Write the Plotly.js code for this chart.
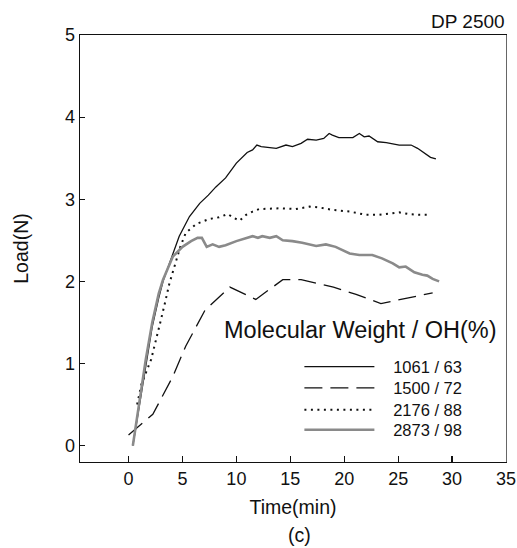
<!DOCTYPE html>
<html>
<head>
<meta charset="utf-8">
<script src="https://cdn.plot.ly/plotly-3.0.1.min.js"></script>
<style>html,body{margin:0;padding:0;background:#fff;}#chart{width:517px;height:548px;}</style>
</head>
<body>
<div id="chart"></div>
<script>
// Series names
const seriesNames = ["1061 / 63", "1500 / 72", "2176 / 88", "2873 / 98"];

// 1061 / 63 (solid black)
const s1x = [0.4, 1.0, 1.6, 2.2, 2.8, 3.2, 3.8, 4.3, 4.7, 5.65, 6.6, 7.4, 8.1, 9.0, 10.0, 11.0, 11.5, 11.9, 12.3, 13.7, 14.6, 15.2, 16.0, 16.6, 17.4, 18.1, 18.6, 18.9, 19.5, 20.8, 21.4, 21.85, 22.3, 23.1, 23.9, 25.1, 26.2, 26.8, 27.4, 28.0, 28.5];
const s1y = [0.0, 0.5, 1.0, 1.45, 1.8, 2.0, 2.22, 2.4, 2.55, 2.79, 2.95, 3.05, 3.15, 3.26, 3.44, 3.57, 3.60, 3.66, 3.64, 3.62, 3.66, 3.64, 3.68, 3.73, 3.72, 3.74, 3.80, 3.78, 3.75, 3.75, 3.80, 3.76, 3.77, 3.70, 3.69, 3.66, 3.66, 3.62, 3.57, 3.51, 3.49];

// 1500 / 72 (dashed)
const s2x = [0.0, 2.25, 4.1, 5.3, 7.1, 9.4, 11.8, 14.3, 16.0, 19.0, 21.1, 23.4, 28.2];
const s2y = [0.13, 0.38, 0.84, 1.21, 1.65, 1.93, 1.78, 2.02, 2.02, 1.93, 1.84, 1.73, 1.86];

// 2176 / 88 (dotted)
const s3x = [0.8, 1.2, 2.1, 2.6, 3.0, 3.4, 3.8, 4.3, 4.8, 5.3, 6.3, 7.5, 8.4, 9.2, 9.8, 10.3, 10.9, 11.5, 12.1, 14.0, 15.5, 16.8, 17.7, 18.9, 20.5, 22.0, 23.2, 25.1, 26.0, 26.9, 28.0];
const s3y = [0.5, 0.75, 1.05, 1.3, 1.53, 1.75, 1.98, 2.2, 2.42, 2.59, 2.70, 2.76, 2.78, 2.82, 2.77, 2.74, 2.81, 2.85, 2.88, 2.89, 2.88, 2.91, 2.90, 2.87, 2.85, 2.81, 2.81, 2.84, 2.82, 2.81, 2.81];

// 2873 / 98 (grey)
const s4x = [0.4, 1.0, 1.6, 2.2, 2.8, 3.2, 4.1, 5.0, 5.8, 6.4, 6.8, 7.25, 7.8, 8.4, 9.0, 10.0, 10.9, 11.5, 12.0, 12.4, 13.1, 13.7, 14.3, 15.2, 16.1, 17.4, 18.3, 19.2, 20.5, 21.4, 22.6, 23.5, 24.5, 25.1, 25.7, 26.5, 27.25, 27.7, 28.2, 28.8];
const s4y = [0.0, 0.55, 1.05, 1.5, 1.85, 2.02, 2.30, 2.42, 2.49, 2.53, 2.53, 2.42, 2.45, 2.42, 2.44, 2.49, 2.53, 2.55, 2.53, 2.55, 2.53, 2.55, 2.50, 2.49, 2.47, 2.43, 2.45, 2.42, 2.34, 2.32, 2.32, 2.28, 2.22, 2.17, 2.18, 2.11, 2.08, 2.07, 2.03, 2.0];

const xTicks = [0, 5, 10, 15, 20, 25, 30, 35];
const yTicks = [0, 1, 2, 3, 4, 5];

const FONT = "Arial, 'Liberation Sans', sans-serif";
const PAD = "\u00a0\u00a0\u00a0";

const traces = [
  {x: s1x, y: s1y, name: PAD + seriesNames[0], mode: "lines", line: {color: "#111", width: 1.3}, legend: "legend"},
  {x: s2x, y: s2y, name: PAD + seriesNames[1], mode: "lines", line: {color: "#111", width: 1.3, dash: "18px,8px"}, legend: "legend2"},
  {x: s3x, y: s3y, name: PAD + seriesNames[2], mode: "lines", line: {color: "#111", width: 2, dash: "2px,4.5px"}, legend: "legend3"},
  {x: s4x, y: s4y, name: PAD + seriesNames[3], mode: "lines", line: {color: "#8a8a8a", width: 2.6}, legend: "legend4"}
];

function mkLegend(yc) {
  return {
    x: 0.515, y: yc, xanchor: "left", yanchor: "middle",
    font: {family: FONT, size: 16.5, color: "#111"},
    itemwidth: 70, bgcolor: "rgba(0,0,0,0)", borderwidth: 0
  };
}

const layout = {
  width: 517, height: 548,
  margin: {l: 80, r: 11, t: 35, b: 86},
  paper_bgcolor: "#fff", plot_bgcolor: "#fff",
  font: {family: FONT, size: 17, color: "#111"},
  showlegend: true,
  legend: mkLegend(0.2225),
  legend2: mkLegend(0.173),
  legend3: mkLegend(0.122),
  legend4: mkLegend(0.075),
  xaxis: {
    range: [-4.5, 35], tickvals: xTicks, ticktext: xTicks.map(String),
    ticks: "inside", ticklen: 6, tickcolor: "#111", tickwidth: 1.2,
    showline: true, linecolor: "#111", linewidth: 1.3, mirror: false,
    showgrid: false, zeroline: false,
    tickfont: {family: FONT, size: 18, color: "#111"},
    title: {text: "Time(min)", font: {family: FONT, size: 19.5, color: "#111"}, standoff: 12}
  },
  yaxis: {
    range: [-0.2, 5], tickvals: yTicks, ticktext: yTicks.map(String),
    ticks: "inside", ticklen: 5, tickcolor: "#111", tickwidth: 1.2,
    showline: true, linecolor: "#111", linewidth: 1.3, mirror: false,
    showgrid: false, zeroline: false,
    tickfont: {family: FONT, size: 18, color: "#111"},
    title: {text: "Load(N)", font: {family: FONT, size: 19.5, color: "#111"}, standoff: 31}
  },
  xaxis2: {overlaying: "x", side: "top", range: [-4.5, 35], showline: true, linecolor: "#111", linewidth: 1.3, showticklabels: false, ticks: "", showgrid: false, zeroline: false},
  yaxis2: {overlaying: "y", side: "right", range: [-0.2, 5], showline: true, linecolor: "#666", linewidth: 1.3, showticklabels: false, ticks: "", showgrid: false, zeroline: false},
  annotations: [
    {text: "DP 2500", xref: "paper", yref: "paper", x: 1.003, y: 1, xanchor: "right", yanchor: "bottom", yshift: 1, showarrow: false, font: {family: FONT, size: 19, color: "#111"}},
    {text: "Molecular Weight / OH(%)", xref: "paper", yref: "paper", x: 0.343, y: 0.309, xanchor: "left", yanchor: "middle", xshift: -4, showarrow: false, font: {family: FONT, size: 23.5, color: "#111"}},
    {text: "(c)", xref: "paper", yref: "paper", x: 0.515, y: -0.17, xanchor: "center", yanchor: "middle", showarrow: false, font: {family: FONT, size: 19.5, color: "#111"}}
  ]
};

// invisible helper trace to activate the border axes (top / right frame)
traces.push({x: [0], y: [0], xaxis: "x2", yaxis: "y2", mode: "lines", showlegend: false, hoverinfo: "skip", line: {width: 0}, opacity: 0});

Plotly.newPlot("chart", traces, layout, {displayModeBar: false, staticPlot: true});
</script>
</body>
</html>
